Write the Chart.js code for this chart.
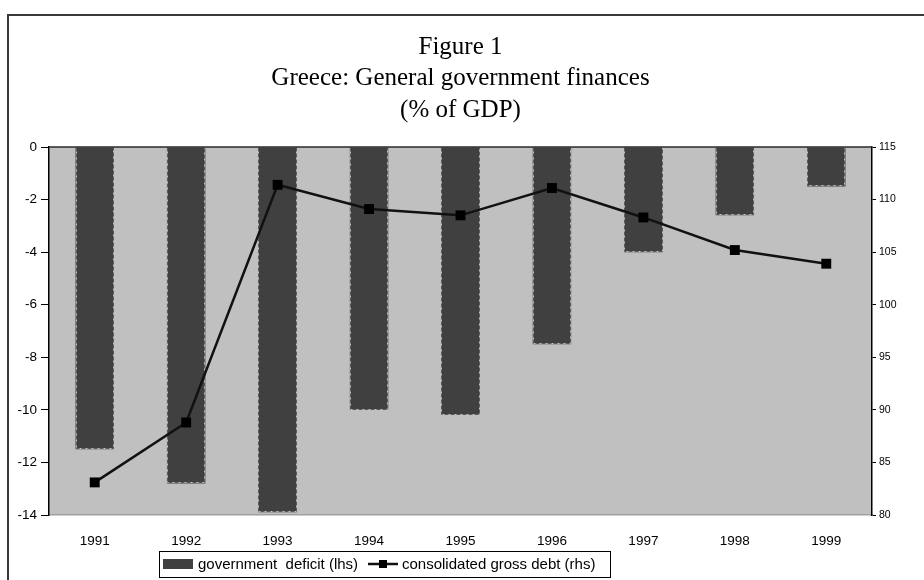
<!DOCTYPE html>
<html>
<head>
<meta charset="utf-8">
<script src="https://cdn.jsdelivr.net/npm/chart.js@4/dist/chart.umd.min.js"></script>
<style>
  html, body { margin: 0; padding: 0; background: #fff; }
  #chart { display: block; }
</style>
</head>
<body>
<canvas id="chart" width="924" height="580"></canvas>
<script>
// Greece, general government finances (% of GDP)
const years = ['1991', '1992', '1993', '1994', '1995', '1996', '1997', '1998', '1999'];
const deficit = [-11.5, -12.8, -13.9, -10.0, -10.2, -7.5, -4.0, -2.6, -1.5];
const grossDebt = [83.1, 88.8, 111.4, 109.1, 108.5, 111.1, 108.3, 105.2, 103.9];

const titleLines = ['Figure 1', 'Greece: General government finances', '(% of GDP)'];
const deficitLabel = 'government  deficit (lhs)';
const debtLabel = 'consolidated gross debt (rhs)';

const SANS = '"Liberation Sans", Arial, sans-serif';
const SERIF = '"Liberation Serif", "Times New Roman", serif';

// white page, grey plot area, outer frame
const backgroundPlugin = {
    id: 'background',
    beforeDraw(chart) {
        const { ctx, chartArea: a } = chart;
        ctx.save();
        ctx.fillStyle = '#fff';
        ctx.fillRect(0, 0, chart.width, chart.height);
        ctx.fillStyle = '#c0c0c0';
        ctx.fillRect(a.left, a.top, a.right - a.left, a.bottom - a.top);
        ctx.restore();
    },
    afterDraw(chart) {
        const { ctx, chartArea: a } = chart;
        ctx.save();
        ctx.strokeStyle = '#3a3a3a';
        ctx.lineWidth = 2;
        ctx.beginPath();
        ctx.moveTo(8, chart.height);
        ctx.lineTo(8, 15);
        ctx.lineTo(chart.width, 15);
        ctx.stroke();

        ctx.strokeStyle = '#2a2a2a';
        ctx.lineWidth = 1.5;
        ctx.beginPath();
        ctx.moveTo(a.left, a.top);
        ctx.lineTo(a.right, a.top);
        ctx.stroke();
        ctx.restore();
    }
};

// three-line serif heading
const headingPlugin = {
    id: 'heading',
    afterDraw(chart) {
        const { ctx, chartArea: a } = chart;
        const cx = (a.left + a.right) / 2;
        ctx.save();
        ctx.fillStyle = '#000';
        ctx.font = '25px ' + SERIF;
        ctx.textAlign = 'center';
        ctx.textBaseline = 'middle';
        titleLines.forEach((line, i) => ctx.fillText(line, cx, 47 + i * 31.5));
        ctx.restore();
    }
};

// dashed outline around each bar
const barOutlinePlugin = {
    id: 'barOutline',
    afterDatasetDraw(chart, args) {
        if (chart.data.datasets[args.index].type !== 'bar') return;
        const { ctx } = chart;
        ctx.save();
        ctx.lineWidth = 1;
        args.meta.data.forEach(bar => {
            const { x, y, base, width } = bar.getProps(['x', 'y', 'base', 'width'], true);
            const l = Math.round(x - width / 2) + 0.5;
            const r = Math.round(x + width / 2) - 0.5;
            const t = Math.min(y, base);
            const b = Math.round(Math.max(y, base)) - 0.5;
            ctx.setLineDash([]);
            ctx.strokeStyle = '#c0c0c0';
            ctx.beginPath();
            ctx.moveTo(l, t); ctx.lineTo(l, b); ctx.lineTo(r, b); ctx.lineTo(r, t);
            ctx.stroke();
            ctx.setLineDash([4, 2]);
            ctx.strokeStyle = '#5a5a5a';
            ctx.stroke();
        });
        ctx.restore();
    }
};

// boxed legend under the category labels
const boxLegendPlugin = {
    id: 'boxLegend',
    afterDraw(chart) {
        const { ctx } = chart;
        const [bars, line] = [chart.data.datasets[1], chart.data.datasets[0]];
        const top = 551, h = 26, left = 159, right = 610;
        const midY = top + h / 2;
        ctx.save();
        ctx.fillStyle = '#fff';
        ctx.fillRect(left, top, right - left, h);
        ctx.strokeStyle = '#000';
        ctx.lineWidth = 1;
        ctx.strokeRect(left + 0.5, top + 0.5, right - left, h);

        ctx.fillStyle = bars.backgroundColor;
        ctx.fillRect(163, midY - 5, 30, 10);

        ctx.font = '15px ' + SANS;
        ctx.textBaseline = 'middle';
        ctx.textAlign = 'left';
        ctx.fillStyle = '#000';
        ctx.fillText(bars.label, 198, midY + 1);

        ctx.strokeStyle = line.borderColor;
        ctx.lineWidth = 2.5;
        ctx.beginPath();
        ctx.moveTo(368, midY);
        ctx.lineTo(398, midY);
        ctx.stroke();
        ctx.fillStyle = line.pointBackgroundColor;
        ctx.fillRect(379, midY - 4, 8, 8);

        ctx.fillStyle = '#000';
        ctx.fillText(line.label, 402, midY + 1);
        ctx.restore();
    }
};

new Chart(document.getElementById('chart'), {
    data: {
        labels: years,
        datasets: [
            {
                type: 'line',
                label: debtLabel,
                data: grossDebt,
                yAxisID: 'y1',
                borderColor: '#111',
                borderWidth: 2.5,
                pointStyle: 'rect',
                pointRadius: 7,
                pointBackgroundColor: '#000',
                pointBorderColor: '#000',
                pointBorderWidth: 0,
                tension: 0,
                order: 0
            },
            {
                type: 'bar',
                label: deficitLabel,
                data: deficit,
                yAxisID: 'y',
                backgroundColor: '#404040',
                borderWidth: 0,
                categoryPercentage: 1,
                barPercentage: 0.42,
                order: 1
            }
        ]
    },
    options: {
        responsive: false,
        animation: false,
        events: [],
        layout: { padding: { top: 147, left: 0, right: 0, bottom: 0 } },
        plugins: {
            legend: { display: false },
            title: { display: false },
            tooltip: { enabled: false }
        },
        scales: {
            x: {
                offset: true,
                grid: { display: false },
                border: { display: true, color: '#a0a0a0', width: 1.5 },
                ticks: { color: '#000', font: { family: SANS, size: 13.5 }, padding: 10, maxRotation: 0 },
                afterFit(scale) { scale.height = 65; }
            },
            y: {
                position: 'left',
                min: -14,
                max: 0,
                ticks: { stepSize: 2, color: '#000', font: { family: SANS, size: 13.5 }, padding: 4 },
                grid: { drawOnChartArea: false, tickLength: 8, color: '#000', lineWidth: 1 },
                border: { display: true, color: '#000', width: 1.5 },
                afterFit(scale) { scale.width = 49; }
            },
            y1: {
                position: 'right',
                min: 80,
                max: 115,
                ticks: { stepSize: 5, color: '#000', font: { family: SANS, size: 10.5 }, padding: 3 },
                grid: { drawOnChartArea: false, tickLength: 4, color: '#000', lineWidth: 1 },
                border: { display: true, color: '#000', width: 1.5 },
                afterFit(scale) { scale.width = 52; }
            }
        }
    },
    plugins: [backgroundPlugin, barOutlinePlugin, headingPlugin, boxLegendPlugin]
});
</script>
</body>
</html>
